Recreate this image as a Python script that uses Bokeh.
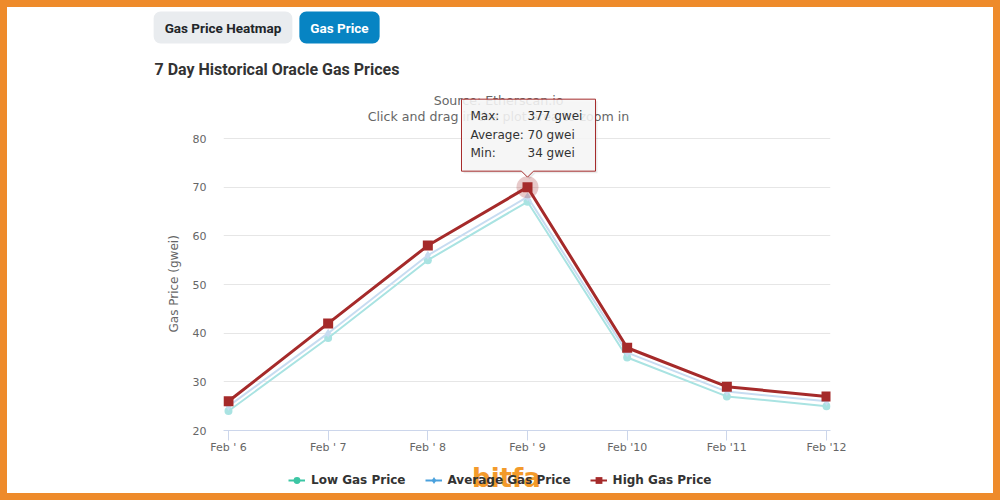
from bokeh.plotting import figure
from bokeh.layouts import column
from bokeh.models import (Range1d, FixedTicker, Label, PolyAnnotation, Legend,
                          LegendItem, ColumnDataSource, Title)
from bokeh.embed import file_html
from bokeh.resources import INLINE

# ---------------- data ----------------
dates = ["Feb ' 6", "Feb ' 7", "Feb ' 8", "Feb ' 9", "Feb '10", "Feb '11", "Feb '12"]
low_price = [24, 39, 55, 67, 35, 27, 25]
avg_price = [25, 40, 56, 68, 36, 28, 26]
high_price = [26, 42, 58, 70, 37, 29, 27]
y_ticks = [20, 30, 40, 50, 60, 70, 80]
series_names = ["Low Gas Price", "Average Gas Price", "High Gas Price"]
tooltip_labels = ["Max:", "Average:", "Min:"]
tooltip_values = ["377 gwei", "70 gwei", "34 gwei"]
hover_index = 3
buttons = ["Gas Price Heatmap", "Gas Price"]
chart_title = "7 Day Historical Oracle Gas Prices"
subtitle_lines = ["Source: Etherscan.io", "Click and drag in the plot area to zoom in"]
y_title = "Gas Price (gwei)"

# ---------------- styles ----------------
LOW_C, AVG_C, HIGH_C = "#3cc6a4", "#4aa1dd", "#a52a2a"
LOW_FADE, AVG_FADE = "#a9e3e2", "#c7dcf1"
FONT = "DejaVu Sans"
TXT = "#333333"
GREY = "#666666"
W = 984
PAGE = 8


def bare_fig(top, bottom):
    """A decoration strip whose data coordinates equal page pixels."""
    f = figure(width=W, height=bottom - top, output_backend="svg", toolbar_location=None,
               x_range=Range1d(PAGE, PAGE + W), y_range=Range1d(bottom, top),
               x_axis_type=None, y_axis_type=None, min_border=0, frame_align=False)
    f.outline_line_color = None
    f.grid.visible = False
    return f


# ---------------- header strip (page y 8..90) ----------------
T_TOP, T_BOT = 8, 90
top = bare_fig(T_TOP, T_BOT)
top.add_layout(Label(x=222.5, y=27, text=buttons[0], text_font="Roboto", text_font_size="13.5px",
                     text_font_style="bold", text_color="#212529", text_align="center",
                     text_baseline="middle", background_fill_color="#e9ecef",
                     padding=(11, 8), border_radius=7))
top.add_layout(Label(x=339, y=27, text=buttons[1], text_font="Roboto", text_font_size="13.5px",
                     text_font_style="bold", text_color="white", text_align="center",
                     text_baseline="middle", background_fill_color="#0784c3",
                     padding=(11, 8), border_radius=7))
top.add_layout(Label(x=154, y=69, text=chart_title, text_font="Roboto", text_font_size="16px",
                     text_font_style="bold", text_color=TXT, text_align="left",
                     text_baseline="middle"))

# ---------------- main chart (page y 90..458) ----------------
M_TOP, M_BOT = 90, 458
PL, PR, PT80, PB = 223, 830, 138, 430        # frame left/right, y=80 line, frame bottom (page)
XS, XE, YS = -0.05, 6.04, 20
px_y = (PB - PT80) / (y_ticks[-1] - YS)
YE = YS + (PB - M_TOP) / px_y
px_x = (PR - PL) / (XE - XS)

p_main = figure(width=W, height=M_BOT - M_TOP, output_backend="svg", toolbar_location=None,
                x_range=Range1d(XS, XE), y_range=Range1d(YS, YE), frame_align=False,
                min_border_left=PL - PAGE, min_border_right=PAGE + W - PR,
                min_border_top=0, min_border_bottom=M_BOT - PB)
p_main.outline_line_color = None

xa = p_main.xaxis[0]
xa.ticker = FixedTicker(ticks=list(range(len(dates))))
xa.major_label_overrides = {i: d for i, d in enumerate(dates)}
xa.axis_line_color = "#ccd6eb"
xa.major_tick_line_color = "#ccd6eb"
xa.major_tick_out = 10
xa.major_tick_in = 0
xa.minor_tick_line_color = None
xa.major_label_text_font = FONT
xa.major_label_text_font_size = "11px"
xa.major_label_text_color = GREY
xa.major_label_standoff = 0

ya = p_main.yaxis[0]
ya.ticker = FixedTicker(ticks=y_ticks)
ya.axis_line_color = None
ya.major_tick_line_color = None
ya.minor_tick_line_color = None
ya.major_tick_out = 0
ya.major_tick_in = 0
ya.major_label_text_font = FONT
ya.major_label_text_font_size = "11px"
ya.major_label_text_color = GREY
ya.major_label_standoff = 17

# y-axis title, centred on the 20..80 span (not on the taller frame)
p_main.add_layout(Title(text=y_title, align="left", offset=PB - 332, vertical_align="middle",
                        standoff=16, text_font=FONT, text_font_size="12px",
                        text_font_style="normal", text_color=GREY), "left")

p_main.xgrid.grid_line_color = None
p_main.ygrid.grid_line_color = "#e6e6e6"
p_main.ygrid.ticker = FixedTicker(ticks=y_ticks)

xs = list(range(len(dates)))
src = ColumnDataSource(dict(x=xs, low=low_price, avg=avg_price, high=high_price))


def page_label(text, X, Y, **kw):
    """Label at page pixel (X, Y), anchored to the frame's bottom-left corner."""
    return Label(x=XS, y=YS, x_offset=X - PL, y_offset=PB - Y, text=text, **kw)


for i, line in enumerate(subtitle_lines):
    p_main.add_layout(page_label(line, 498, 100 + 16 * i, text_font=FONT, text_font_size="12.6px",
                                 text_color=GREY, text_align="center", text_baseline="middle"))

p_main.line("x", "low", source=src, line_color=LOW_FADE, line_width=2)
p_main.scatter("x", "low", source=src, marker="circle", size=8,
               fill_color=LOW_FADE, line_color=None)
p_main.line("x", "avg", source=src, line_color=AVG_FADE, line_width=2)
p_main.scatter("x", "avg", source=src, marker="diamond", size=9,
               fill_color=AVG_FADE, line_color=None)
p_main.line("x", "high", source=src, line_color=HIGH_C, line_width=3)
hx, hy = xs[hover_index], high_price[hover_index]
p_main.scatter(x=[hx], y=[hy], marker="circle", size=22, fill_color=HIGH_C,
               fill_alpha=0.25, line_color=None)
p_main.scatter("x", "high", source=src, marker="square", size=10,
               fill_color=HIGH_C, line_color=None)


# tooltip anchored to the hovered point (offsets in px)
def dx(off):
    return hx + off / px_x


def dy(off):
    return hy - off / px_y   # off in px downward


box_l, box_r, box_t, box_b, tip = -66, 68, -88, -16, -10
tx = [dx(box_l), dx(box_r), dx(box_r), dx(6), dx(0), dx(-6), dx(box_l)]
ty = [dy(box_t), dy(box_t), dy(box_b), dy(box_b), dy(tip), dy(box_b), dy(box_b)]
p_main.add_layout(PolyAnnotation(xs=[v + 2 / px_x for v in tx], ys=[v - 2 / px_y for v in ty],
                                 fill_color="black", fill_alpha=0.08, line_color=None))
p_main.add_layout(PolyAnnotation(xs=tx, ys=ty, fill_color="#f7f7f7", fill_alpha=0.88,
                                 line_color=HIGH_C, line_alpha=1.0, line_width=1))
for i, (lab, val) in enumerate(zip(tooltip_labels, tooltip_values)):
    yo = 71 - 18.5 * i
    p_main.add_layout(Label(x=hx, y=hy, x_offset=-57, y_offset=yo, text=lab, text_font=FONT,
                            text_font_size="12px", text_color=TXT, text_baseline="middle"))
    p_main.add_layout(Label(x=hx, y=hy, x_offset=0, y_offset=yo, text=val, text_font=FONT,
                            text_font_size="12px", text_color=TXT, text_baseline="middle"))

# ---------------- legend strip (page y 458..492) ----------------
B_TOP, B_BOT = 458, 492
bot = bare_fig(B_TOP, B_BOT)
nan_pt = dict(x=[float("nan")], y=[float("nan")])   # legend-only renderers draw nothing
l1 = bot.line(x="x", y="y", source=ColumnDataSource(nan_pt), line_color=LOW_C, line_width=2)
m1 = bot.scatter(x="x", y="y", source=ColumnDataSource(nan_pt), marker="circle", size=8,
                 fill_color=LOW_C, line_color=None)
l2 = bot.line(x="x", y="y", source=ColumnDataSource(nan_pt), line_color=AVG_C, line_width=2)
m2 = bot.scatter(x="x", y="y", source=ColumnDataSource(nan_pt), marker="diamond", size=9,
                 fill_color=AVG_C, line_color=None)
l3 = bot.line(x="x", y="y", source=ColumnDataSource(nan_pt), line_color=HIGH_C, line_width=2)
m3 = bot.scatter(x="x", y="y", source=ColumnDataSource(nan_pt), marker="square", size=8,
                 fill_color=HIGH_C, line_color=None)
legend = Legend(items=[LegendItem(label=series_names[0], renderers=[l1, m1]),
                       LegendItem(label=series_names[1], renderers=[l2, m2]),
                       LegendItem(label=series_names[2], renderers=[l3, m3])],
                orientation="horizontal", location=(288 - PAGE, B_BOT - 490),
                glyph_width=17, glyph_height=20, label_height=20, label_standoff=6,
                spacing=19, padding=0, margin=0, border_line_color=None,
                background_fill_alpha=0, label_text_font=FONT,
                label_text_font_style="bold", label_text_font_size="12px",
                label_text_color=TXT, level="annotation")
bot.add_layout(legend)
bot.add_layout(Label(x=506, y=477, text="bitfa", text_font=FONT, text_font_size="26px",
                     text_font_style="bold", text_color="#f39a2b", text_align="center",
                     text_baseline="middle", background_fill_color="white",
                     background_fill_alpha=0.92, padding=(3, 0), level="overlay"))

p = column(top, p_main, bot, spacing=0)

html = file_html(p, INLINE)
html = html.replace("</head>",
                    "<style>html,body{background:#ffffff !important;}"
                    "body{padding:8px !important;box-shadow:inset 0 0 0 7px #EE8B2B;}</style></head>", 1)
open("out.html", "w").write(html)
